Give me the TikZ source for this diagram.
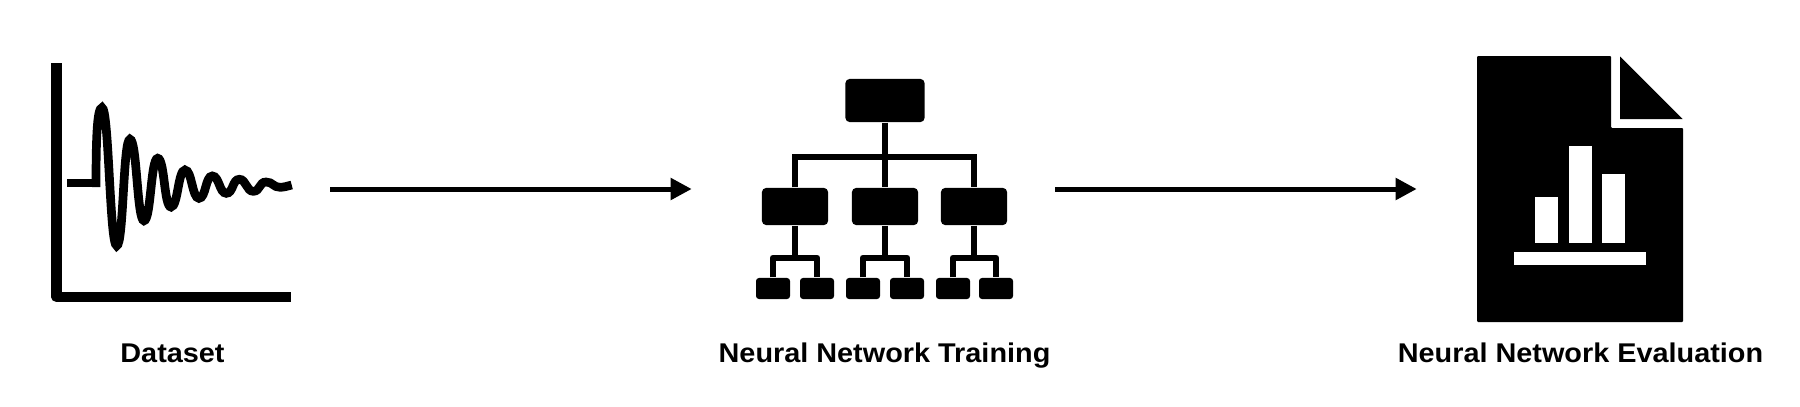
\documentclass[tikz,border=0pt]{standalone}
\usepackage{fontspec}
\usepackage{tikz}
\setmainfont[FakeStretch=1.065]{Liberation Sans}
\usetikzlibrary{arrows.meta}
\tikzstyle{topbox}=[rectangle, rounded corners=0.04cm, fill=black, minimum width=0.79cm, minimum height=0.43cm, inner sep=0]
\tikzstyle{midbox}=[rectangle, rounded corners=0.04cm, fill=black, minimum width=0.66cm, minimum height=0.37cm, inner sep=0]
\tikzstyle{leafbox}=[rectangle, rounded corners=0.03cm, fill=black, minimum width=0.34cm, minimum height=0.21cm, inner sep=0]
\tikzstyle{link}=[line width=0.063cm, draw=black]
\tikzstyle{fork}=[line width=0.067cm, draw=black, line join=round]
\tikzstyle{flow}=[line width=0.05cm, draw=black, -{Triangle[length=0.21cm, width=0.21cm]}]
\tikzstyle{caption}=[anchor=base, inner sep=0, font=\fontsize{7.7pt}{9pt}\selectfont\bfseries]

\begin{document}
\begin{tikzpicture}[x=0.01cm, y=-0.01cm]
	\useasboundingbox (0,0) rectangle (1800,406);
	% dataset plot
	\draw[line width=0.1cm, line join=round] (56.5,63) -- (56.5,297) -- (290.5,297);
	\draw[line width=0.08cm] (67,182.7) -- (100,182.7);
	\draw[line width=0.087cm] (96,187) .. controls (96,140) and (97,107.7) .. (102,107.7)
		.. controls +(7,0) and +(-7,0) .. (116.7,245.7)
		.. controls +(7,0) and +(-7,0) .. (130,139.3)
		.. controls +(7,0) and +(-7,0) .. (144,220.7)
		.. controls +(7,0) and +(-7,0) .. (157.7,158.3)
		.. controls +(7,0) and +(-7,0) .. (171,207)
		.. controls +(7,0) and +(-7,0) .. (185,170)
		.. controls +(7,0) and +(-7,0) .. (199,198.3)
		.. controls +(7,0) and +(-7,0) .. (212.3,176)
		.. controls +(7,0) and +(-7,0) .. (226.3,193.3)
		.. controls +(7,0) and +(-7,0) .. (239.3,179.3)
		.. controls +(7,0) and +(-7,0) .. (253.3,191.3)
		.. controls +(7,0) and +(-7,0) .. (266,182)
		.. controls +(7,0) and +(-7,0) .. (280,187.3)
		.. controls +(4,0) and +(-4,1) .. (291.7,185);
	% network tree
	\node[topbox] (top) at (885,100.5) {};
	\node[midbox] (m1) at (795,206.5) {};
	\node[midbox] (m2) at (885,206.5) {};
	\node[midbox] (m3) at (974,206.5) {};
	\node[leafbox] (f1) at (773,288.5) {};
	\node[leafbox] (f2) at (817,288.5) {};
	\node[leafbox] (f3) at (863,288.5) {};
	\node[leafbox] (f4) at (907,288.5) {};
	\node[leafbox] (f5) at (953,288.5) {};
	\node[leafbox] (f6) at (996,288.5) {};
	\coordinate (bus) at (885,157);
	\coordinate (b1) at (795,258);
	\coordinate (b2) at (885,258);
	\coordinate (b3) at (974,258);
	\draw[link] (top) -- (m2);
	\draw[link] (m1.north) |- (bus) -| (m3.north);
	\draw[link] (m1) -- (b1);
	\draw[link] (m2) -- (b2);
	\draw[link] (m3) -- (b3);
	\draw[fork] (f1.north) |- (b1) -| (f2.north);
	\draw[fork] (f3.north) |- (b2) -| (f4.north);
	\draw[fork] (f5.north) |- (b3) -| (f6.north);
	% report page
	\fill[rounded corners=0.01cm] (1477,56) -- (1611,56) -- (1611,128) -- (1683,128) -- (1683,322) -- (1477,322) -- cycle;
	\fill (1620,56.5) -- (1620,119) -- (1682.5,119) -- cycle;
	\fill[white] (1535,197) rectangle (1558,242.7);
	\fill[white] (1569,146) rectangle (1592,242.7);
	\fill[white] (1602,174) rectangle (1625,242.7);
	\fill[white] (1514,251.7) rectangle (1646,265);
	% arrows
	\coordinate (a1) at (330,189);
	\coordinate (a2) at (691.7,189);
	\coordinate (a3) at (1055,189);
	\coordinate (a4) at (1416.7,189);
	\draw[flow] (a1) -- (a2);
	\draw[flow] (a3) -- (a4);
	% labels
	\node[caption] (dataset) at (172.5,362.7) {Dataset};
	\node[caption] (training) at (884.5,362.7) {Neural Network Training};
	\node[caption] (evaluation) at (1580.5,362.7) {Neural Network Evaluation};
\end{tikzpicture}
\end{document}
